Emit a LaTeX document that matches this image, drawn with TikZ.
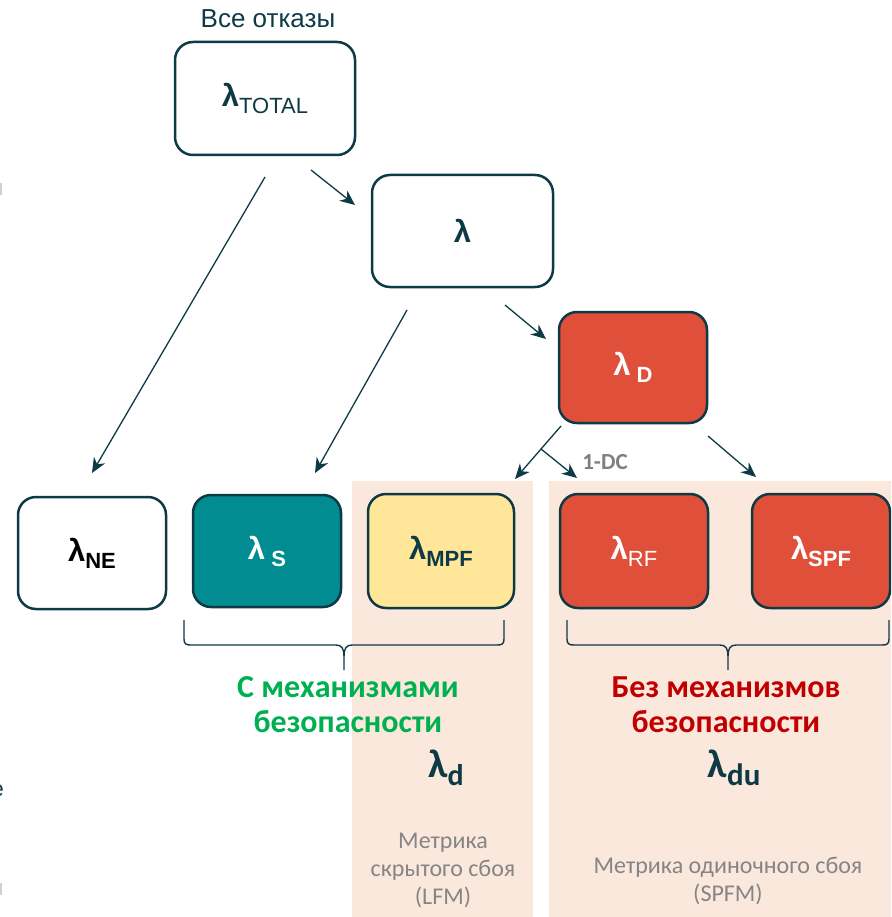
\documentclass[tikz,border=0pt]{standalone}
\usepackage{fontspec}
\setmainfont{Liberation Sans}
\newfontfamily\calfont{Carlito}
\usetikzlibrary{arrows.meta}

\definecolor{ink}{HTML}{0E3A45}
\definecolor{tealbox}{HTML}{008C90}
\definecolor{redbox}{HTML}{E04F3A}
\definecolor{yellowbox}{HTML}{FFE699}
\definecolor{peach}{HTML}{FBE8DD}
\definecolor{safegreen}{HTML}{00B050}
\definecolor{unsafered}{HTML}{C00000}
\definecolor{notegray}{HTML}{858585}
\definecolor{dcgray}{HTML}{7F7F7F}
\definecolor{edgegray}{HTML}{C9D2D6}

\newcommand{\sz}[2]{\fontsize{#1}{#2}\selectfont}
% lambda with a lowered subscript
\newcommand{\lam}[2]{{\sz{31}{33}\bfseries λ}\raisebox{-7pt}{\sz{22}{24}#1#2}}

\tikzset{
  rate/.style={draw=ink, line width=2.5pt, rounded corners=18pt,
               inner sep=0pt, align=center, text=ink},
  arr/.style={draw=ink, line width=1.3pt,
              -{Stealth[length=15pt,width=13pt]}},
  brace/.style={draw=ink, line width=1.4pt},
  metric/.style={text=notegray, font=\calfont\sz{24}{28}, align=center},
  verdict/.style={font=\calfont\bfseries\sz{32}{35}, align=center},
}

\begin{document}
\begin{tikzpicture}[x=1pt,y=-1pt]
\useasboundingbox (0,0) rectangle (891,917);
\clip (0,0) rectangle (891,917);

% metric panels
\fill[peach] (352,481) rectangle (533,917);
\fill[peach] (549,481) rectangle (891,917);

% stray marks on the left edge
\fill[edgegray] (0,183) rectangle (1.5,195);
\fill[edgegray] (0,883) rectangle (1.5,895);
\node[text=ink, font=\sz{22}{24}, anchor=east, inner sep=0pt] (edgee) at (4,791) {e};

% title
\node[text=ink, font=\sz{26}{30}] (title) at (268,19) {Все отказы};

% rate boxes
\node[rate, fill=white, minimum width=180pt, minimum height=113pt] (total) at (265,98.5)
  {\lam{\mdseries}{TOTAL}};
\node[rate, fill=white, minimum width=181pt, minimum height=112pt] (lam) at (462.5,231)
  {\sz{31}{33}\bfseries λ};
\node[rate, fill=redbox, text=white, minimum width=148pt, minimum height=111pt] (lamD) at (633,367.5)
  {\lam{\bfseries\ }{D}};
\node[rate, fill=white, text=black, minimum width=148pt, minimum height=112pt] (ne) at (92,553)
  {\lam{\bfseries}{NE}};
\node[rate, fill=tealbox, text=white, minimum width=148pt, minimum height=112pt] (s) at (267,551)
  {\lam{\bfseries\ }{S}};
\node[rate, fill=yellowbox, minimum width=146pt, minimum height=114pt] (mpf) at (441,551)
  {\lam{\bfseries}{MPF}};
\node[rate, fill=redbox, text=white, minimum width=148pt, minimum height=114pt] (rf) at (634,551)
  {\lam{\mdseries}{RF}};
\node[rate, fill=redbox, text=white, minimum width=138pt, minimum height=114pt] (spf) at (821,551)
  {\lam{\bfseries}{SPF}};

% connector end points
\coordinate (a1s) at (265,177);  \coordinate (a1e) at (92,473);
\coordinate (a2s) at (311,170);  \coordinate (a2e) at (355,205);
\coordinate (a3s) at (407,310);  \coordinate (a3e) at (315,473);
\coordinate (a4s) at (505,305);  \coordinate (a4e) at (546,339);
\coordinate (a5s) at (561,426);  \coordinate (a5e) at (515,479);
\coordinate (a6s) at (541,449);  \coordinate (a6e) at (577,478);
\coordinate (a7s) at (708,436);  \coordinate (a7e) at (756,477);

\draw[arr] (a1s) -- (a1e);
\draw[arr] (a2s) -- (a2e);
\draw[arr] (a3s) -- (a3e);
\draw[arr] (a4s) -- (a4e);
\draw[arr] (a5s) -- (a5e);
\draw[arr] (a6s) -- (a6e);
\draw[arr] (a7s) -- (a7e);

\node[text=dcgray, font=\calfont\bfseries\sz{23}{25}] (dc) at (605,462) {1-DC};

% braces under the groups
\draw[brace] (184,620) -- (184,639) .. controls (184,644) and (186,645) .. (191,645)
  -- (336,645) .. controls (342,645) and (344,649) .. (344,656) -- (344,670);
\draw[brace] (504,620) -- (504,639) .. controls (504,644) and (502,645) .. (497,645)
  -- (352,645) .. controls (346,645) and (344,649) .. (344,656);
\draw[brace] (567,620) -- (567,639) .. controls (567,644) and (569,645) .. (574,645)
  -- (720,645) .. controls (726,645) and (728,649) .. (728,656) -- (728,670);
\draw[brace] (889,620) -- (889,639) .. controls (889,644) and (887,645) .. (882,645)
  -- (736,645) .. controls (730,645) and (728,649) .. (728,656);

% group captions
\node[verdict, text=safegreen] (safe) at (348,705) {С механизмами\\безопасности};
\node[verdict, text=unsafered] (unsafe) at (726,705) {Без механизмов\\безопасности};

\node[text=ink] (ld) at (446,768)
  {{\calfont\bfseries\sz{40}{42}λ}\raisebox{-8pt}{\calfont\bfseries\sz{30}{32}d}};
\node[text=ink] (ldu) at (734,768)
  {{\calfont\bfseries\sz{40}{42}λ}\raisebox{-8pt}{\calfont\bfseries\sz{31}{32}du}};

% metric names
\node[metric] (lfm) at (443,870) {Метрика\\скрытого сбоя\\(LFM)};
\node[metric] (spfm) at (728,881) {Метрика одиночного сбоя\\(SPFM)};
\end{tikzpicture}
\end{document}
